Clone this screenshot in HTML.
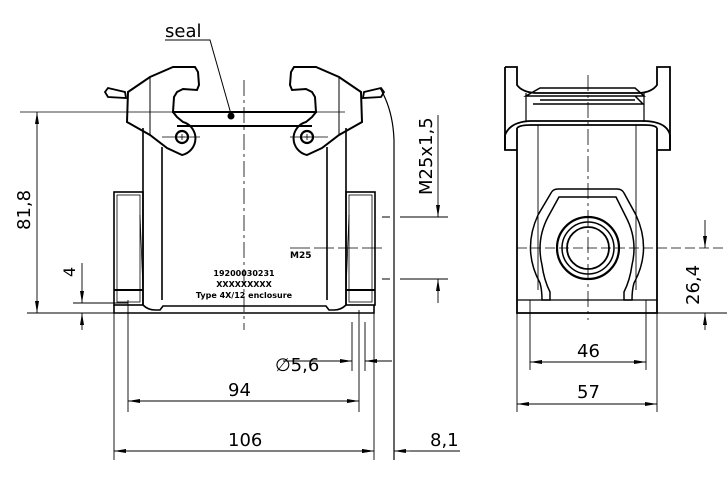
<!DOCTYPE html>
<html><head><meta charset="utf-8"><style>html,body{margin:0;padding:0;background:#fff}svg{display:block}text{font-family:"DejaVu Sans","Liberation Sans",sans-serif;fill:#000}</style></head>
<body>
<svg width="727" height="478" viewBox="0 0 727 478" xmlns="http://www.w3.org/2000/svg">
<defs>
<marker id="a" viewBox="0 0 12 4" refX="12" refY="2" markerWidth="12" markerHeight="4" markerUnits="userSpaceOnUse" orient="auto-start-reverse"><path d="M0,0L12,2L0,4z" fill="#000"/></marker>
<g id="latch">
<path d="M128,92 L150,77 L173,67 L195,67 L198,72 L199,85 L197,90 L183,89 L177,92 L174,97 L173,112 L177,117 L183,122 A17,17 0 0 1 182,155 L167,148 L150,135 L127,122 Z" fill="none" stroke="#000" stroke-width="2"/>
<path d="M105,92 L108,88 L125,92 L126,98 L108,97 Z" fill="none" stroke="#000" stroke-width="1.8"/>
<line x1="150" y1="77" x2="150" y2="136" stroke="#000" stroke-width="1"/>
<circle cx="182" cy="137" r="6" fill="none" stroke="#000" stroke-width="2.2"/>
<path d="M179,137h6M182,134v6" stroke="#000" stroke-width="0.8"/>
</g>
<g id="side">
<rect x="114" y="192" width="29" height="113" fill="none" stroke="#000" stroke-width="1.6"/>
<rect x="117" y="195" width="23" height="107" fill="none" stroke="#000" stroke-width="0.8"/>
<line x1="114" y1="290" x2="143" y2="290" stroke="#000" stroke-width="2"/>
<line x1="140" y1="215" x2="143" y2="290" stroke="#000" stroke-width="0.8"/>
</g>
</defs>

<!-- FRONT VIEW -->
<g fill="none" stroke="#000">
<use href="#latch"/>
<use href="#latch" transform="translate(489,0) scale(-1,1)"/>
<use href="#side"/>
<use href="#side" transform="translate(489,0) scale(-1,1)"/>
<!-- body walls -->
<path d="M143,128 V305 M162,147 V300 M346,128 V305 M327,147 V300" stroke-width="1.6"/>
<!-- bottom -->
<path d="M114,305 V313 H374 V305 M143,305 Q148,310 155,310 L160,310 L163,306 H326 L329,310 H334 Q341,310 346,305" stroke-width="1.6"/>
<!-- seal bar -->
<path d="M172,112 H317 M177,126 H312" stroke-width="2"/>
<!-- centre lines -->
<path d="M244,80 V330" stroke-width="0.8" stroke-dasharray="16,4,3,4"/>
<path d="M20,112 H172 M317,112 H345" stroke-width="0.8"/>
<path d="M162,137 H200 M290,137 H328" stroke-width="0.8"/>
<!-- seal leader -->
<path d="M165,40 H210 L231,114" stroke-width="1"/>
<!-- curve right -->
<path d="M380,88 Q393,110 394,140 V460" stroke-width="1.2"/>
<!-- M25 marks -->
<path d="M290,248 H385" stroke-width="0.8" stroke-dasharray="20,4"/>
<path d="M382,217 H390 M400,217 H448 M382,279 H390 M400,279 H448" stroke-width="0.9"/>
<!-- dims left -->
<path d="M27,313 H114" stroke-width="0.9"/>
<path d="M73,303 H128" stroke-width="0.9"/>
<line x1="37" y1="112" x2="37" y2="313" stroke-width="0.9" marker-start="url(#a)" marker-end="url(#a)"/>
<line x1="82" y1="263" x2="82" y2="303" stroke-width="0.9" marker-end="url(#a)"/>
<line x1="82" y1="330" x2="82" y2="313" stroke-width="0.9" marker-end="url(#a)"/>
<!-- M25x1.5 dim -->
<line x1="438" y1="115" x2="438" y2="217" stroke-width="0.9" marker-end="url(#a)"/>
<line x1="438" y1="303" x2="438" y2="279" stroke-width="0.9" marker-end="url(#a)"/>
<!-- bottom dims -->
<path d="M114,313 V460 M374,313 V460 M128,300 V412 M359,310 V412 M352,322 V371 M365,322 V371" stroke-width="0.9"/>
<path d="M283,361 H335" stroke-width="0.9"/>
<line x1="335" y1="361" x2="352" y2="361" stroke-width="0.9" marker-end="url(#a)"/>
<line x1="392" y1="361" x2="365" y2="361" stroke-width="0.9" marker-end="url(#a)"/>
<line x1="128" y1="401" x2="359" y2="401" stroke-width="0.9" marker-start="url(#a)" marker-end="url(#a)"/>
<line x1="114" y1="451" x2="374" y2="451" stroke-width="0.9" marker-start="url(#a)" marker-end="url(#a)"/>
<line x1="360" y1="451" x2="374" y2="451" stroke-width="0.9" marker-end="url(#a)"/>
<line x1="410" y1="451" x2="394" y2="451" stroke-width="0.9" marker-end="url(#a)"/>
<path d="M410,451 H460" stroke-width="0.9"/>
</g>
<circle cx="231" cy="116" r="3.5" fill="#000"/>
<text x="165" y="37" font-size="18">seal</text>
<text x="275" y="371" font-size="18">∅5,6</text>
<text x="228" y="396" font-size="18">94</text>
<text x="228" y="446" font-size="18">106</text>
<text x="430" y="446" font-size="18">8,1</text>
<text transform="translate(30,230) rotate(-90)" font-size="18">81,8</text>
<text transform="translate(75,277) rotate(-90)" font-size="16">4</text>
<text transform="translate(432,195) rotate(-90)" font-size="18">M25x1,5</text>
<text x="290" y="258" font-size="9" font-weight="bold">M25</text>
<text x="244" y="276" font-size="8" font-weight="bold" text-anchor="middle">19200030231</text>
<text x="244" y="287" font-size="8" font-weight="bold" text-anchor="middle">XXXXXXXXX</text>
<text x="244" y="298" font-size="8" font-weight="bold" text-anchor="middle">Type 4X/12 enclosure</text>

<!-- SIDE VIEW -->
<g fill="none" stroke="#000">
<path d="M505,67 H517 V85 Q522,92 535,93 H640 Q652,92 657,85 V67 H670 V150 H657 M505,67 V150 H517" stroke-width="1.8"/>
<path d="M540,88 H635 L644,96 H526 Z M533,104 H643 L635,96 M540,100 H635" stroke-width="1.5"/>
<path d="M526,93 V122 M644,93 V122" stroke-width="1.2"/>
<path d="M505,150 V135 Q510,122 530,121 H645 Q667,122 670,135 V150" stroke-width="1.8"/>
<path d="M517,128 V313 H657 V128 M517,128 Q520,125 530,125 H645 Q655,125 657,128" stroke-width="1.8"/>
<path d="M538,125 V290 M636,125 V290" stroke-width="0.9"/>
<path d="M517,300 H657" stroke-width="1.2"/>
<path d="M558,189 H617 Q622,189 624,193 L636,215 Q652,250 634,283 Q632,290 632,300 H624 V292 Q630,280 632,265 Q638,240 626,217 L616,197 H559 L548,217 Q536,240 542,265 Q544,280 550,292 V300 H542 Q542,290 540,283 Q522,250 538,215 L551,193 Q553,189 558,189 Z" stroke-width="1.5"/>
<circle cx="588" cy="248" r="31" stroke-width="2.2"/>
<circle cx="588" cy="248" r="26" stroke-width="1.5"/>
<circle cx="588" cy="248" r="21" stroke-width="1.8"/>
<path d="M588,75 V320" stroke-width="0.8" stroke-dasharray="16,4,3,4"/>
<path d="M517,248 H727" stroke-width="0.8" stroke-dasharray="10,4"/>
<path d="M657,313 H727" stroke-width="0.9"/>
<path d="M530,300 V370 M646,300 V370 M517,313 V412 M657,313 V412" stroke-width="0.9"/>
<line x1="705" y1="220" x2="705" y2="248" stroke-width="0.9" marker-end="url(#a)"/>
<line x1="705" y1="330" x2="705" y2="313" stroke-width="0.9" marker-end="url(#a)"/>
<line x1="530" y1="362" x2="646" y2="362" stroke-width="0.9" marker-start="url(#a)" marker-end="url(#a)"/>
<line x1="517" y1="404" x2="657" y2="404" stroke-width="0.9" marker-start="url(#a)" marker-end="url(#a)"/>
</g>
<text x="577" y="357" font-size="18">46</text>
<text x="577" y="398" font-size="18">57</text>
<text transform="translate(699,305) rotate(-90)" font-size="18">26,4</text>
</svg>
</body></html>
